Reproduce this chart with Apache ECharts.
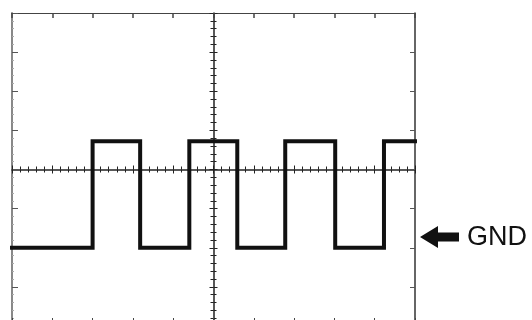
<!DOCTYPE html>
<html>
<head>
<meta charset="utf-8">
<script src="https://cdn.jsdelivr.net/npm/echarts@6/dist/echarts.min.js"></script>
<style>html,body{margin:0;padding:0;background:#fff}#c{width:532px;height:320px}</style>
</head>
<body>
<div id="c"></div>
<script>
// Edge positions (divisions) where each level starts, and the level held from there
var edgeX = [0, 2.0, 3.18, 4.40, 5.59, 6.78, 8.02, 9.23, 10];
var levelY = [-2, 0.72, -2, 0.72, -2, 0.72, -2, 0.72, 0.72];
var xRange = [0, 10];
var yRange = [-4, 4];
var gndLabel = 'GND';

var chart = echarts.init(document.getElementById('c'), null, {renderer: 'canvas'});
var GL = 12, GT = 13, GW = 403, GB = -6;
function xAx(pos, opts) {
  return Object.assign({
    type: 'value', gridIndex: 0, position: pos, min: xRange[0], max: xRange[1], interval: 1,
    axisLabel: {show: false}, splitLine: {show: false}
  }, opts);
}
function yAx(pos, opts) {
  return Object.assign({
    type: 'value', gridIndex: 0, position: pos, min: yRange[0], max: yRange[1], interval: 1,
    axisLabel: {show: false}, splitLine: {show: false}
  }, opts);
}
var frameLine = {show: true, onZero: false, lineStyle: {color: '#444', width: 1}};
var centerTickStyle = {color: '#222', width: 1};
var data = edgeX.map(function (x, i) { return [x, levelY[i]]; });

chart.setOption({
  animation: false,
  grid: {left: GL, top: GT, width: GW, bottom: GB, show: false, containLabel: false, outerBoundsMode: 'none'},
  xAxis: [
    xAx('bottom', {axisLine: frameLine, axisTick: {show: true, inside: true, length: 8, lineStyle: {color: '#444'}}}),
    xAx('top', {axisLine: frameLine, axisTick: {show: true, inside: true, length: 5, lineStyle: {color: '#444', width: 1.5}}}),
    xAx('bottom', {axisLine: {show: true, onZero: true, onZeroAxisIndex: 0, lineStyle: {color: '#222', width: 1.5}},
      axisTick: {show: true, inside: true, length: 4, lineStyle: centerTickStyle},
      minorTick: {show: true, splitNumber: 5, length: 3, lineStyle: centerTickStyle}}),
    xAx('bottom', {axisLine: {show: false, onZero: true, onZeroAxisIndex: 0},
      axisTick: {show: true, inside: false, length: 4, lineStyle: centerTickStyle},
      minorTick: {show: true, splitNumber: 5, length: 3, lineStyle: centerTickStyle}})
  ],
  yAxis: [
    yAx('left', {axisLine: {show: true, onZero: false, lineStyle: {color: '#888', width: 2}},
      axisTick: {show: true, inside: true, length: 6, lineStyle: {color: '#555'}},
      minorTick: {show: true, splitNumber: 5, length: 2, lineStyle: {color: '#aaa'}}}),
    yAx('right', {axisLine: {show: true, onZero: false, lineStyle: {color: '#333', width: 1.5}},
      axisTick: {show: true, inside: true, length: 5, lineStyle: {color: '#555'}}}),
    yAx('left', {offset: -GW / 2, axisLine: {show: true, onZero: false, lineStyle: {color: '#222', width: 1.5}},
      axisTick: {show: true, inside: true, length: 4, lineStyle: centerTickStyle},
      minorTick: {show: true, splitNumber: 5, length: 3, lineStyle: centerTickStyle}}),
    yAx('left', {offset: -GW / 2, axisLine: {show: false, onZero: false},
      axisTick: {show: true, inside: false, length: 4, lineStyle: centerTickStyle},
      minorTick: {show: true, splitNumber: 5, length: 3, lineStyle: centerTickStyle}})
  ],
  series: [{
    type: 'line', xAxisIndex: 0, yAxisIndex: 0, data: data, step: 'end',
    showSymbol: false, symbol: 'none', clip: false,
    lineStyle: {color: '#111', width: 4, cap: 'square', join: 'miter'}
  }],
  graphic: [
    {type: 'polygon', shape: {points: [[420, 237], [438, 226], [438, 232.5], [459, 232.5], [459, 241.5], [438, 241.5], [438, 248]]},
      style: {fill: '#111'}},
    {type: 'text', left: 467, top: 224, style: {text: gndLabel, fill: '#111', font: '27px "Liberation Sans", Arial, sans-serif'}}
  ]
});
</script>
</body>
</html>
